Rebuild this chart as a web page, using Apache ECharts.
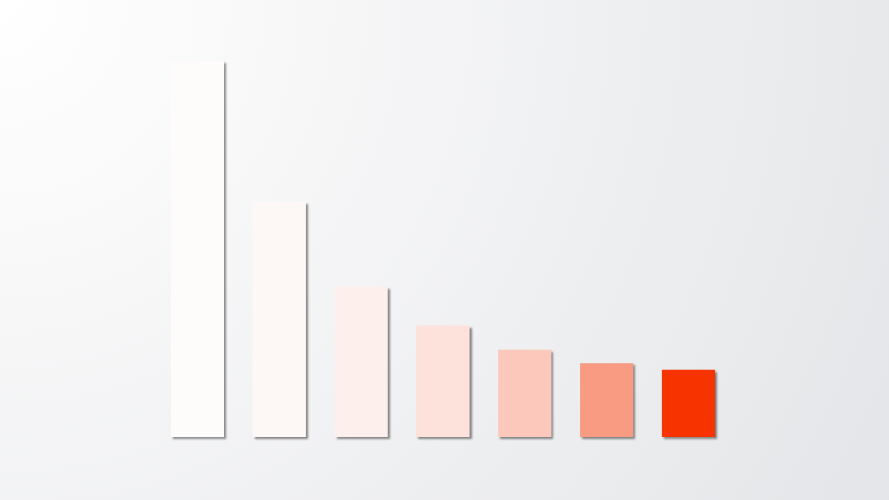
<!DOCTYPE html>
<html>
<head>
<meta charset="utf-8">
<script src="https://cdn.jsdelivr.net/npm/echarts@6/dist/echarts.min.js"></script>
<style>
html,body{margin:0;padding:0;width:100%;height:100%;}
#main{width:889px;height:500px;}
</style>
</head>
<body>
<div id="main"></div>
<script>
const categories = ['A', 'B', 'C', 'D', 'E', 'F', 'G'];
const values = [560, 350, 224, 166, 130, 110, 100];
const palette = ['#fdfcfb', '#fdf7f5', '#fcefec', '#fde2dc', '#fbc8bb', '#f99a82', '#f73300'];

const chart = echarts.init(document.getElementById('main'), null, {renderer: 'canvas'});
chart.setOption({
  animation: false,
  backgroundColor: {
    type: 'radial', x: 0, y: 0, r: 1030, global: true,
    colorStops: [
      {offset: 0, color: '#ffffff'},
      {offset: 1, color: '#e4e5e8'}
    ]
  },
  grid: {left: 156.6, right: 159.6, top: 61, bottom: 63},
  xAxis: {
    type: 'category',
    data: categories,
    show: false
  },
  yAxis: {
    type: 'value',
    min: 0,
    max: 560,
    show: false,
    splitLine: {show: false}
  },
  series: [{
    type: 'bar',
    barWidth: '65%',
    data: values.map((v, i) => ({value: v, itemStyle: {color: palette[i]}})),
    itemStyle: {
      shadowColor: 'rgba(0,0,0,0.45)',
      shadowBlur: 2,
      shadowOffsetX: 2,
      shadowOffsetY: 2
    }
  }]
});
</script>
</body>
</html>
